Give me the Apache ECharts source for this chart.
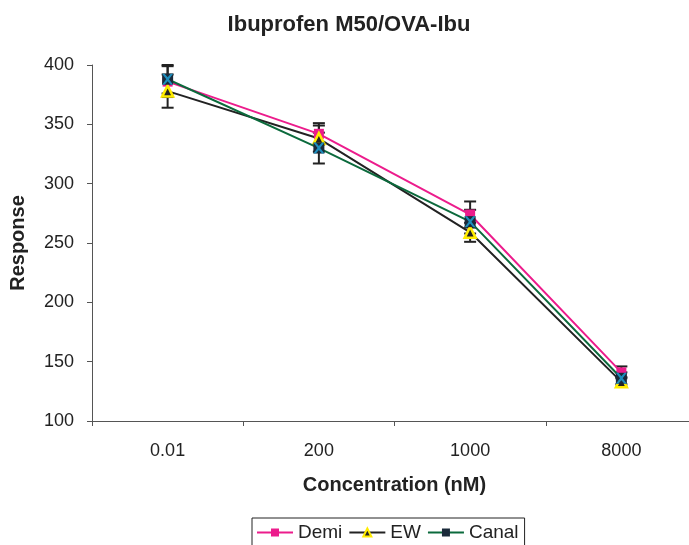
<!DOCTYPE html>
<html>
<head>
<meta charset="utf-8">
<script src="https://cdn.jsdelivr.net/npm/echarts@6/dist/echarts.min.js"></script>
<style>
  html, body { margin: 0; padding: 0; background: #fff; overflow: hidden; }
  #main { width: 705px; height: 545px; }
</style>
</head>
<body>
<div id="main"></div>
<script>
// data
var categories = ['0.01', '200', '1000', '8000'];
var demi = [386, 342, 274, 141];
var ew = [378, 338, 259, 133];
var canal = [388, 330, 268, 136];
var demiErr = [13, 9, 11, 5];
var ewErr = [14, 11, 8, 4];
var canalErr = [12, 13, 10, 5];
var yTicks = [100, 150, 200, 250, 300, 350, 400];

var chartDom = document.getElementById('main');
var myChart = echarts.init(chartDom);
var option;

var font = 'Liberation Sans, Arial, sans-serif';
var xPath = 'path://M0,0 L2.2,0 L5,3.2 L7.8,0 L10,0 L6.2,5 L10,10 L7.8,10 L5,6.8 L2.2,10 L0,10 L3.8,5 Z';

function errData(vals, errs) {
  return vals.map(function (v, i) { return [i, v, errs[i]]; });
}

function errRender(params, api) {
  var x = api.value(0), y = api.value(1), e = api.value(2);
  var hi = api.coord([x, y + e]);
  var lo = api.coord([x, y - e]);
  var w = 6;
  var st = { stroke: '#222', lineWidth: 2 };
  return {
    type: 'group',
    children: [
      { type: 'line', shape: { x1: hi[0], y1: hi[1], x2: lo[0], y2: lo[1] }, style: st },
      { type: 'line', shape: { x1: hi[0] - w, y1: hi[1], x2: hi[0] + w, y2: hi[1] }, style: st },
      { type: 'line', shape: { x1: lo[0] - w, y1: lo[1], x2: lo[0] + w, y2: lo[1] }, style: st }
    ]
  };
}

option = {
  animation: false,
  textStyle: { fontFamily: font },
  title: {
    text: 'Ibuprofen M50/OVA-Ibu',
    left: 344,
    textAlign: 'center',
    top: 9,
    textStyle: { fontFamily: font, fontSize: 22, fontWeight: 'bold', color: '#222' }
  },
  legend: {
    data: ['Demi', 'EW', 'Canal'],
    left: 252,
    top: 518,
    itemWidth: 36,
    itemHeight: 10,
    itemGap: 6,
    padding: [5, 6, 10, 4],
    borderColor: '#222',
    borderWidth: 1,
    borderRadius: 0,
    textStyle: { fontFamily: font, fontSize: 19, color: '#222' }
  },
  grid: { left: 91, right: 8, top: 65, bottom: 124, containLabel: false },
  xAxis: {
    type: 'category',
    data: categories,
    boundaryGap: true,
    name: 'Concentration (nM)',
    nameLocation: 'middle',
    nameGap: 54,
    nameTextStyle: { fontFamily: font, fontSize: 20, fontWeight: 'bold', color: '#222' },
    axisLine: { lineStyle: { color: '#555', width: 1 } },
    axisTick: { show: true, length: 5, inside: false, lineStyle: { color: '#555' } },
    axisLabel: { fontSize: 18, color: '#222', margin: 21 },
    splitLine: { show: false }
  },
  yAxis: {
    type: 'value',
    min: yTicks[0],
    max: yTicks[yTicks.length - 1],
    interval: 50,
    name: 'Response',
    nameLocation: 'middle',
    nameGap: 64,
    nameTextStyle: { fontFamily: font, fontSize: 20, fontWeight: 'bold', color: '#222' },
    axisLine: { show: true, lineStyle: { color: '#555', width: 1 } },
    axisTick: { show: true, length: 5, lineStyle: { color: '#555' } },
    axisLabel: { fontSize: 18, color: '#222', margin: 18 },
    splitLine: { show: false }
  },
  series: [
    { type: 'custom', name: 'errDemi', renderItem: errRender, data: errData(demi, demiErr), z: 1, silent: true },
    { type: 'custom', name: 'errEW', renderItem: errRender, data: errData(ew, ewErr), z: 1, silent: true },
    { type: 'custom', name: 'errCanal', renderItem: errRender, data: errData(canal, canalErr), z: 1, silent: true },
    {
      name: 'Demi', type: 'line', data: demi, z: 3,
      symbol: 'rect', symbolSize: 10, showAllSymbol: true,
      lineStyle: { color: '#ec1c8c', width: 2 },
      itemStyle: { color: '#ec1c8c', borderWidth: 0 }
    },
    {
      name: 'EW', type: 'line', data: ew, z: 3,
      symbol: 'triangle', symbolSize: 11, showAllSymbol: true,
      lineStyle: { color: '#222', width: 2 },
      itemStyle: { color: '#222', borderColor: '#ffec00', borderWidth: 2.5 }
    },
    {
      name: 'Canal', type: 'line', data: canal, z: 4,
      symbol: 'rect', symbolSize: 11, showAllSymbol: true,
      lineStyle: { color: '#0b6a3c', width: 2 },
      itemStyle: { color: '#1a2a3a', borderWidth: 0 }
    },
    {
      name: 'CanalX', type: 'scatter', data: canal, z: 5,
      symbol: xPath, symbolSize: 11, silent: true,
      itemStyle: { color: '#1ea7df' }
    }
  ]
};

option && myChart.setOption(option);

window.addEventListener('resize', myChart.resize);
</script>
</body>
</html>
